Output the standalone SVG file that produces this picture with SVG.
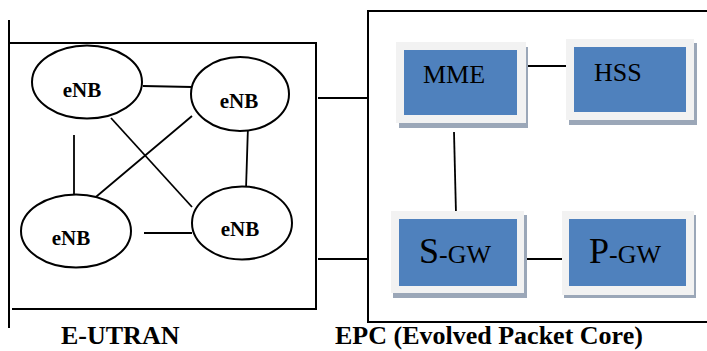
<svg xmlns="http://www.w3.org/2000/svg" width="707" height="351" viewBox="0 0 707 351">
  <style>
    .frame { fill: none; stroke: #000; stroke-width: 2; }
    .link { stroke: #000; stroke-width: 1.8; fill: none; }
    .enb { fill: #fff; stroke: #000; stroke-width: 2; }
    text { font-family: 'Liberation Serif', 'DejaVu Serif', serif; fill: #000; }
    .enb-label { font-weight: bold; font-size: 21px; text-anchor: middle; }
    .box-shadow { fill: #9ba7b8; }
    .box-outer { fill: #f2f2f2; }
    .box-inner { fill: #4f81bd; }
    .box-label { font-size: 26px; }
    .gw-label { font-size: 36px; }
    .gw-small { font-size: 26px; }
    .caption { font-weight: bold; font-size: 26px; }
  </style>

  <!-- E-UTRAN frame -->
  <g id="eutran-frame">
    <line class="frame" x1="9" y1="20" x2="9" y2="328"/>
    <polyline class="frame" points="9,43 316,43 316,309 12,309"/>
  </g>

  <!-- EPC frame (open on the right) -->
  <g id="epc-frame">
    <polyline class="frame" points="707,11 368,11 368,322 707,322"/>
  </g>

  <g id="connectors">
    <!-- eNB mesh -->
    <line class="link" x1="143" y1="86" x2="192" y2="87"/>
    <line class="link" x1="111" y1="118" x2="192" y2="207"/>
    <line class="link" x1="192" y1="116" x2="84" y2="207"/>
    <line class="link" x1="74" y1="135" x2="74" y2="194"/>
    <line class="link" x1="248" y1="126" x2="246" y2="189"/>
    <line class="link" x1="144" y1="233" x2="192" y2="233"/>
    <!-- E-UTRAN to EPC -->
    <line class="link" x1="318" y1="98" x2="368" y2="98"/>
    <line class="link" x1="318" y1="259" x2="368" y2="259"/>
    <!-- core links -->
    <line class="link" x1="522" y1="66" x2="570" y2="66"/>
    <line class="link" x1="454" y1="132" x2="456" y2="214"/>
    <line class="link" x1="521" y1="259" x2="565" y2="259"/>
  </g>

  <!-- eNodeBs -->
  <g id="enb-1">
    <ellipse class="enb" cx="87" cy="82" rx="55" ry="36.5"/>
    <text class="enb-label" x="82" y="97">eNB</text>
  </g>
  <g id="enb-2">
    <ellipse class="enb" cx="240" cy="94" rx="49" ry="37"/>
    <text class="enb-label" x="239" y="108">eNB</text>
  </g>
  <g id="enb-3">
    <ellipse class="enb" cx="76" cy="231" rx="55" ry="36.5"/>
    <text class="enb-label" x="71" y="245">eNB</text>
  </g>
  <g id="enb-4">
    <ellipse class="enb" cx="242" cy="223" rx="50" ry="36.5"/>
    <text class="enb-label" x="240" y="236">eNB</text>
  </g>

  <!-- Core network elements -->
  <g id="mme">
    <rect class="box-shadow" x="399" y="47" width="129" height="81"/>
    <rect class="box-outer" x="396" y="42" width="130" height="81"/>
    <rect class="box-inner" x="404" y="50" width="113" height="65"/>
    <text class="box-label" x="423" y="83">MME</text>
  </g>
  <g id="hss">
    <rect class="box-shadow" x="569" y="43" width="128" height="82"/>
    <rect class="box-outer" x="566" y="39" width="128" height="81"/>
    <rect class="box-inner" x="574" y="47" width="112" height="65"/>
    <text class="box-label" x="594" y="81">HSS</text>
  </g>
  <g id="s-gw">
    <rect class="box-shadow" x="393" y="215" width="134" height="83"/>
    <rect class="box-outer" x="391" y="211" width="133" height="82"/>
    <rect class="box-inner" x="399" y="219" width="118" height="67"/>
    <text class="gw-label" x="419" y="263">S<tspan class="gw-small">-GW</tspan></text>
  </g>
  <g id="p-gw">
    <rect class="box-shadow" x="564" y="215" width="132" height="83"/>
    <rect class="box-outer" x="562" y="211" width="132" height="84"/>
    <rect class="box-inner" x="569" y="219" width="117" height="67"/>
    <text class="gw-label" x="589" y="263">P<tspan class="gw-small">-GW</tspan></text>
  </g>

  <!-- Captions -->
  <text class="caption" x="61" y="344">E-UTRAN</text>
  <text class="caption" x="335" y="344">EPC (Evolved Packet Core)</text>
</svg>
